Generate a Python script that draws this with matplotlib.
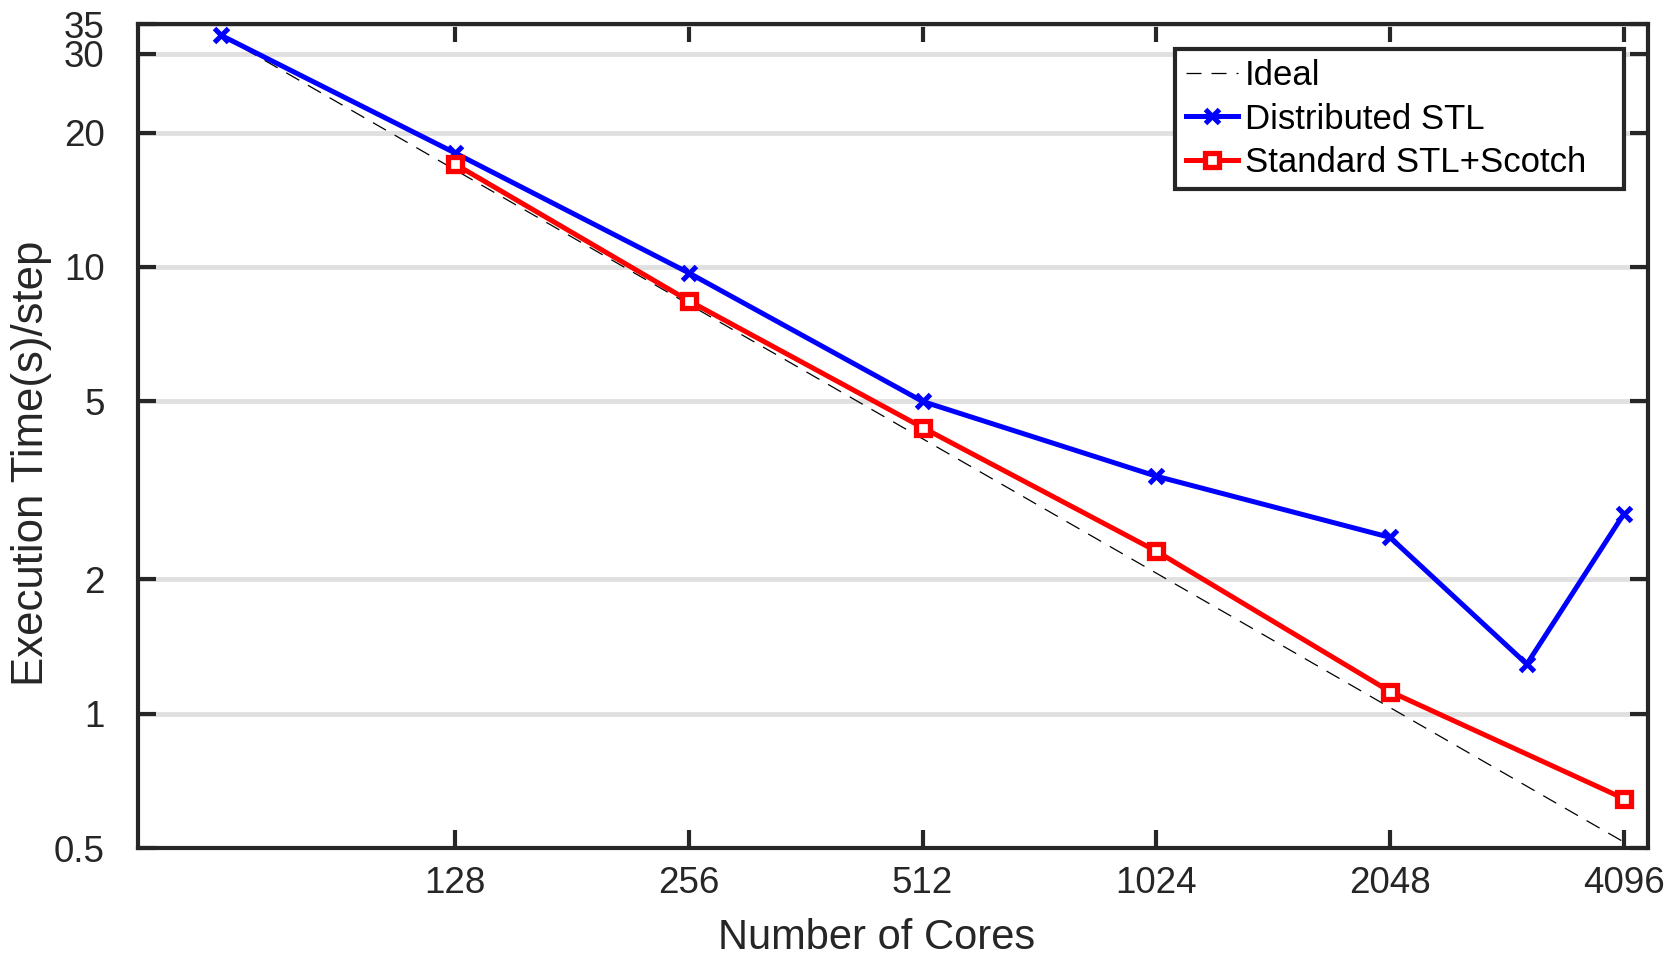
import numpy as np
import matplotlib.pyplot as plt
from matplotlib.ticker import FixedLocator, NullLocator

plt.rcParams['font.family'] = ['Liberation Sans', 'DejaVu Sans']

# data
cores = [64, 128, 256, 512, 1024, 2048, 3072, 4096]
dist_stl = [33.0, 18.0, 9.7, 5.0, 3.4, 2.48, 1.29, 2.8]
cores_scotch = [128, 256, 512, 1024, 2048, 4096]
std_scotch = [17.0, 8.4, 4.37, 2.31, 1.12, 0.645]
ideal_cores = [64, 4096]
ideal_base = 33.0

x_ticks = [128, 256, 512, 1024, 2048, 4096]
y_ticks = [0.5, 1, 2, 5, 10, 20, 30, 35]

dark = '#262626'

fig = plt.figure(figsize=(16.64, 9.57), dpi=100)
ax = fig.add_axes([138 / 1664, 1 - 848 / 957, (1648 - 138) / 1664, (848 - 24) / 957])

ideal = [ideal_base * ideal_cores[0] / c for c in ideal_cores]
ax.plot(ideal_cores, ideal, linestyle=(0, (12, 8)), color='black', linewidth=0.9, label='Ideal')
ax.plot(cores, dist_stl, color='blue', linewidth=3.6, marker='x', markersize=10,
        markeredgewidth=3.6, label='Distributed STL')
ax.plot(cores_scotch, std_scotch, color='red', linewidth=3.6, marker='s', markersize=10,
        markerfacecolor='white', markeredgewidth=3.8, label='Standard STL+Scotch')

ax.set_xscale('log')
ax.set_yscale('log')
ax.set_xlim(50, 4400)
ax.set_ylim(0.5, 35)

ax.xaxis.set_major_locator(FixedLocator(x_ticks))
ax.xaxis.set_minor_locator(NullLocator())
ax.set_xticklabels([str(t) for t in x_ticks])
ax.yaxis.set_major_locator(FixedLocator(y_ticks))
ax.yaxis.set_minor_locator(NullLocator())
ax.set_yticklabels(['0.5', '1', '2', '5', '10', '20', '30', '35'])

ax.grid(True, axis='y', color='#e0e0e0', linewidth=3.5)
ax.set_axisbelow(True)

ax.tick_params(axis='both', which='major', direction='in', length=13, width=3,
               colors=dark, labelsize=26.5, top=True, right=True)
ax.tick_params(axis='x', pad=13)
ax.tick_params(axis='y', pad=24)
for s in ax.spines.values():
    s.set_linewidth(3)
    s.set_color(dark)
    s.set_zorder(5)

ax.set_xlabel('Number of Cores', fontsize=30, color=dark)
ax.set_ylabel('Execution Time(s)/step', fontsize=31.5, color=dark)
ax.xaxis.set_label_coords(0.489, -0.085)
ax.yaxis.set_label_coords(-0.057, 0.467)

leg = ax.legend(loc='upper left', bbox_to_anchor=(0.687, 0.970 - 0.17, 0.297, 0.17),
                mode='expand', fontsize=25, frameon=True, fancybox=False,
                borderaxespad=0, handlelength=1.5, handletextpad=0.2,
                borderpad=0.3, labelspacing=0.3)
leg.get_frame().set_edgecolor(dark)
leg.get_frame().set_linewidth(3)
leg.get_frame().set_alpha(1)

fig.savefig('out.png', dpi=100)
